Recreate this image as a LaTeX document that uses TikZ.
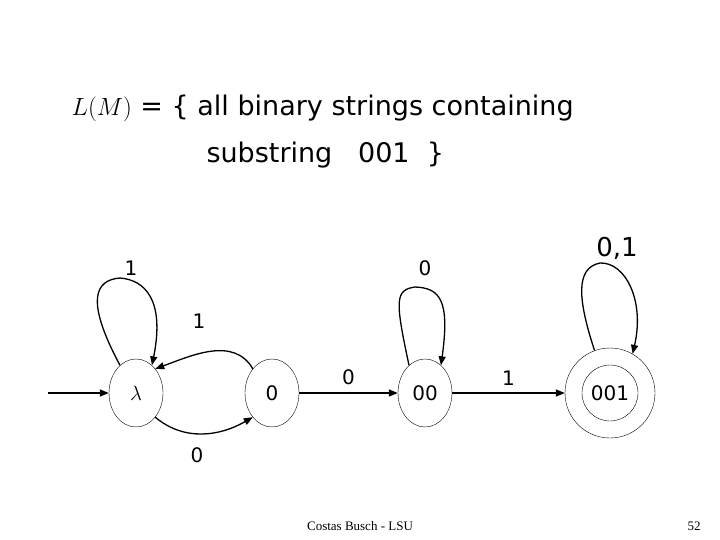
\documentclass[tikz,border=0pt]{standalone}
\usepackage{fontspec}
\setmainfont{DejaVu Sans}
\newfontfamily\tms{Liberation Serif}
\usetikzlibrary{arrows.meta,shapes.geometric}
\begin{document}
\begin{tikzpicture}[x=1pt,y=-1pt,
  st/.style={draw,ellipse,thin,minimum width=54pt,minimum height=68pt,inner sep=0pt,font=\fontsize{20}{20}\selectfont},
  ed/.style={-{Triangle[length=9pt,width=7pt]},line width=1.3pt},
  lb/.style={font=\fontsize{20}{20}\selectfont}]
\useasboundingbox (0,0) rectangle (720,540);
\node[anchor=west,font=\fontsize{27}{27}\selectfont] (t1) at (68,108) {$L(M)$ = \{ all binary strings containing};
\node[anchor=west,font=\fontsize{27}{27}\selectfont] (t2) at (203,155) {substring \ \ 001 \ \}};
\node (q0) [st] at (136,393) {$\lambda$};
\node (q1) [st] at (272,393) {0};
\node (q2) [st] at (425,393) {00};
\node (q3) [draw,circle,thin,minimum size=90pt] at (610,393) {};
\node (q3i) [st,minimum width=56pt,minimum height=56pt] at (610,393) {001};
\coordinate (s) at (48,393);
\draw[ed] (s) -- (q0);
\draw[ed] (q1) -- node[lb,above=4pt]{0} (q2);
\draw[ed] (q2) -- node[lb,above=4pt]{1} (q3);
\draw[ed] (q1.north west) to[out=120,in=20] (q0.north east);
\draw[ed] (q0.south east) to[out=-40,in=-150] (q1.south west);
\draw[ed] (q0.120) .. controls (85,300) and (95,280) .. (120,278) .. controls (145,280) and (165,300) .. (q0.60);
\draw[ed] (q2.120) .. controls (395,300) and (395,290) .. (415,287) .. controls (440,288) and (450,300) .. (q2.60);
\draw[ed] (q3.110) .. controls (578,300) and (575,268) .. (600,263) .. controls (625,262) and (645,300) .. (q3.60);
\node[lb] (l1) at (131,268) {1};
\node[lb] (l2) at (199,321) {1};
\node[lb] (l3) at (197,455) {0};
\node[lb] (l4) at (425,268) {0};
\node[font=\fontsize{26}{26}\selectfont] (l5) at (617,248) {0,1};
\node[font=\tms\fontsize{13}{13}\selectfont] (f1) at (360,526) {Costas Busch - LSU};
\node[font=\tms\fontsize{13}{13}\selectfont] (f2) at (694,526) {52};
\end{tikzpicture}
\end{document}
